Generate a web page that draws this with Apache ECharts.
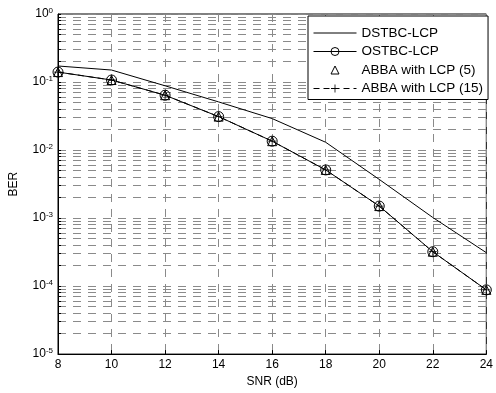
<!DOCTYPE html>
<html>
<head>
<meta charset="utf-8">
<script src="https://cdn.jsdelivr.net/npm/echarts@6/dist/echarts.min.js"></script>
<style>
  html, body { margin: 0; padding: 0; background: #fff; }
  #chart { width: 496px; height: 393px; }
</style>
</head>
<body>
<div id="chart"></div>
<script>
const snr = [8, 10, 12, 14, 16, 18, 20, 22, 24];
const xTicks = [8, 10, 12, 14, 16, 18, 20, 22, 24];
const dstbcLcp = [0.172, 0.150, 0.088, 0.051, 0.029, 0.013, 0.0037, 0.00102, 0.00031];
const ostbcLcp = [0.140, 0.107, 0.064, 0.031, 0.0135, 0.0051, 0.0015, 0.00032, 0.000088];
const abbaLcp5 = [0.140, 0.107, 0.064, 0.031, 0.0135, 0.0051, 0.0015, 0.00032, 0.000088];
const abbaLcp15 = [0.140, 0.107, 0.064, 0.031, 0.0135, 0.0051, 0.0015, 0.00032, 0.000088];
const yDecades = [-5, -4, -3, -2, -1, 0];

// every 1..9 x 10^n gridline, like a matlab log grid
const yGridValues = [];
yDecades.forEach(e => {
  const top = e === 0 ? 1 : 9;
  for (let k = 1; k <= top; k++) yGridValues.push(+(k * Math.pow(10, e)).toPrecision(3));
});

const pairs = ys => snr.map((x, i) => [x, ys[i]]);
const plusPath = 'path://M4.5,0H5.5V4.5H10V5.5H5.5V10H4.5V5.5H0V4.5H4.5Z';
const font = "'Liberation Sans', Arial, sans-serif";
const gridLine = { show: true, lineStyle: { color: '#8a8a8a', width: 1, type: [8, 7] } };

const chart = echarts.init(document.getElementById('chart'), null, { renderer: 'canvas' });

chart.setOption({
  animation: false,
  backgroundColor: '#fff',
  textStyle: { fontFamily: font },
  grid: {
    left: 55, right: 5, top: 14, bottom: 38,
    show: true, borderColor: '#000', borderWidth: 1, backgroundColor: '#fff'
  },
  legend: {
    orient: 'vertical',
    left: 308,
    top: 16,
    padding: [9, 5, 3, 5],
    itemGap: 2.5,
    itemWidth: 43,
    itemHeight: 10,
    backgroundColor: '#fff',
    borderColor: '#000',
    borderWidth: 1,
    borderRadius: 0,
    lineStyle: { width: 1 },
    itemStyle: { borderWidth: 1 },
    textStyle: { fontFamily: font, fontSize: 13.5, color: '#000', lineHeight: 16 },
    data: ['DSTBC-LCP', 'OSTBC-LCP', 'ABBA with LCP (5)', 'ABBA with LCP (15)']
  },
  xAxis: {
    type: 'value',
    min: 8,
    max: 24,
    interval: 2,
    name: 'SNR (dB)',
    nameLocation: 'middle',
    nameGap: 20,
    nameTextStyle: { fontFamily: font, fontSize: 12, color: '#000' },
    axisLine: { show: true, onZero: false, lineStyle: { color: '#000' } },
    axisTick: { show: true, inside: true, length: 4, lineStyle: { color: '#000' } },
    axisLabel: { color: '#000', fontSize: 12, margin: 5, fontFamily: font, customValues: xTicks },
    splitLine: gridLine
  },
  yAxis: {
    type: 'log',
    logBase: 10,
    min: 1e-5,
    max: 1,
    name: 'BER',
    nameLocation: 'middle',
    nameGap: 38,
    nameTextStyle: { fontFamily: font, fontSize: 12, color: '#000' },
    axisLine: { show: true, lineStyle: { color: '#000' } },
    axisTick: { show: true, inside: true, length: 3, lineStyle: { color: '#000' }, customValues: yGridValues },
    axisLabel: {
      color: '#000',
      margin: 5,
      fontFamily: font,
      customValues: yDecades.map(e => Math.pow(10, e)),
      formatter: v => '{b|10}{s|' + Math.round(Math.log10(v)) + '}',
      rich: {
        b: { fontSize: 12, color: '#000', fontFamily: font },
        s: { fontSize: 8, color: '#000', fontFamily: font, verticalAlign: 'top', padding: [0, 0, 7, 0] }
      }
    },
    splitLine: gridLine
  },
  series: [
    {
      name: 'DSTBC-LCP',
      type: 'line',
      data: pairs(dstbcLcp),
      symbol: 'circle',
      symbolSize: 0,
      showSymbol: false,
      lineStyle: { color: '#000', width: 1 },
      itemStyle: { color: 'rgba(0,0,0,0)', borderWidth: 0 },
      z: 3
    },
    {
      name: 'OSTBC-LCP',
      type: 'line',
      data: pairs(ostbcLcp),
      symbol: 'circle',
      symbolSize: 10,
      showSymbol: true,
      lineStyle: { color: '#000', width: 1 },
      itemStyle: { color: 'rgba(255,255,255,0)', borderColor: '#000', borderWidth: 1 },
      z: 3
    },
    {
      name: 'ABBA with LCP (5)',
      type: 'line',
      data: pairs(abbaLcp5),
      symbol: 'triangle',
      symbolSize: 9,
      showSymbol: true,
      lineStyle: { width: 0, opacity: 0 },
      itemStyle: { color: 'rgba(255,255,255,0)', borderColor: '#000', borderWidth: 1 },
      z: 4
    },
    {
      name: 'ABBA with LCP (15)',
      type: 'line',
      data: pairs(abbaLcp15),
      symbol: plusPath,
      symbolSize: 8,
      showSymbol: true,
      lineStyle: { color: '#000', width: 1, type: [6, 4] },
      itemStyle: { color: '#000', borderWidth: 0 },
      z: 5
    }
  ]
});
</script>
</body>
</html>
